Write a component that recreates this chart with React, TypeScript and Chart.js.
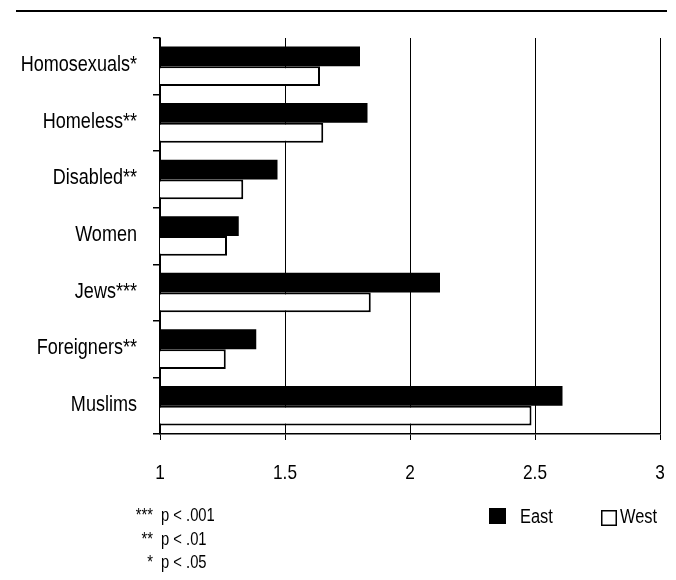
import React, { useEffect, useRef } from "react";
import { Chart, registerables } from "chart.js";

Chart.register(...registerables);

const categories = ["Homosexuals*", "Homeless**", "Disabled**", "Women", "Jews***", "Foreigners**", "Muslims"];
const eastValues = [1.8, 1.83, 1.47, 1.315, 2.12, 1.385, 2.61];
const westValues = [1.64, 1.653, 1.333, 1.268, 1.843, 1.263, 2.486];
const seriesNames = ["East", "West"];
const footnotes = [
  ["***", "p < .001"],
  ["**", "p < .01"],
  ["*", "p < .05"],
];
const xMin = 1;
const xMax = 3;
const xStep = 0.5;

const FONT = '"Liberation Sans", Arial, sans-serif';
const NARROW = 0.82;

function drawText(ctx: any, text: string, x: number, y: number, size: number, align: "left" | "right" | "center") {
  ctx.save();
  ctx.font = `${size}px ${FONT}`;
  ctx.textAlign = align;
  ctx.textBaseline = "alphabetic";
  ctx.fillStyle = "#000";
  ctx.scale(NARROW, 1);
  ctx.fillText(text, x / NARROW, y);
  ctx.restore();
}

const decorPlugin = {
  id: "decor",
  beforeDraw(chart: any) {
    const ctx = chart.ctx;
    ctx.save();
    ctx.fillStyle = "#fff";
    ctx.fillRect(0, 0, chart.width, chart.height);
    ctx.fillStyle = "#000";
    ctx.fillRect(16, 10, chart.width - 25, 2);
    ctx.restore();
  },
  afterDraw(chart: any) {
    const ctx = chart.ctx;
    const area = chart.chartArea;
    const xs = chart.scales.x;
    const ys = chart.scales.y;
    // category labels
    categories.forEach((c, i) => {
      drawText(ctx, c, area.left - 23, ys.getPixelForValue(i) + 5, 22, "right");
    });
    // value tick labels
    xs.ticks.forEach((t: any) => {
      drawText(ctx, String(t.value), xs.getPixelForValue(t.value), area.bottom + 45, 21, "center");
    });
    // footnotes
    footnotes.forEach((f, i) => {
      const y = area.bottom + 87 + i * 23.5;
      drawText(ctx, f[0], area.left - 7, y, 18, "right");
      drawText(ctx, f[1], area.left + 1, y, 18, "left");
    });
    // legend
    ctx.save();
    const ly = area.bottom + 74;
    ctx.fillStyle = "#000";
    ctx.fillRect(489, ly, 17, 16);
    ctx.strokeStyle = "#000";
    ctx.lineWidth = 1.5;
    ctx.strokeRect(601.75, ly + 2.75, 14.5, 14.5);
    ctx.restore();
    drawText(ctx, seriesNames[0], 520, ly + 15, 20, "left");
    drawText(ctx, seriesNames[1], 620, ly + 15, 20, "left");
  },
};

export default function App() {
  const ref = useRef<HTMLCanvasElement | null>(null);
  useEffect(() => {
    if (!ref.current) return;
    const chart = new Chart(ref.current, {
      type: "bar",
      data: {
        labels: categories,
        datasets: [
          {
            label: seriesNames[0],
            data: eastValues,
            backgroundColor: "#000",
            borderColor: "#000",
            borderWidth: 0,
            barPercentage: 1,
            categoryPercentage: 0.7,
          },
          {
            label: seriesNames[1],
            data: westValues,
            backgroundColor: "#fff",
            borderColor: "#000",
            borderWidth: 2,
            barPercentage: 1,
            categoryPercentage: 0.7,
          },
        ],
      },
      options: {
        indexAxis: "y",
        responsive: false,
        animation: false,
        layout: { padding: { left: 0, top: 38, right: 16, bottom: 0 } },
        plugins: { legend: { display: false }, tooltip: { enabled: false } },
        scales: {
          x: {
            min: xMin,
            max: xMax,
            ticks: {
              stepSize: xStep,
              display: false,
            },
            grid: {
              color: "#000",
              lineWidth: 1,
              tickLength: 6,
              tickColor: "#000",
            },
            border: { display: true, color: "#000", width: 1.5 },
            afterFit(scale: any) {
              scale.height = 580 - 434;
            },
          },
          y: {
            ticks: { display: false },
            grid: {
              drawOnChartArea: false,
              tickLength: 7,
              tickColor: "#000",
              lineWidth: 1.5,
            },
            border: { display: true, color: "#000", width: 1.5 },
            afterFit(scale: any) {
              scale.width = 160;
            },
          },
        },
      },
      plugins: [decorPlugin],
    });
    return () => chart.destroy();
  }, []);
  return (
    <div style={{ position: "fixed", left: 0, top: 0, width: 676, height: 580, background: "#fff" }}>
      <canvas ref={ref} width={676} height={580} style={{ display: "block", width: 676, height: 580 }} />
    </div>
  );
}
